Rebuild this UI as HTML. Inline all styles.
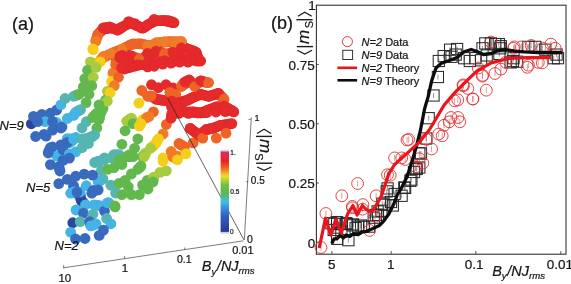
<!DOCTYPE html>
<html><head><meta charset="utf-8"><style>
html,body{margin:0;padding:0;background:#fff;width:571px;height:284px;overflow:hidden}
svg{position:absolute;left:0;top:0}
text{font-family:"Liberation Sans",sans-serif;fill:#151515;stroke:#151515;stroke-width:0.22px}
</style></head><body>
<svg width="571" height="284" viewBox="0 0 571 284">
<defs>
<filter id="bl" x="-5%" y="-5%" width="110%" height="110%"><feGaussianBlur stdDeviation="0.35"/></filter><filter id="bl2" x="0" y="0" width="571" height="284" filterUnits="userSpaceOnUse"><feGaussianBlur stdDeviation="0.3"/></filter>
<linearGradient id="cb" x1="0" y1="0" x2="0" y2="1">
<stop offset="0" stop-color="#d42a8a"/><stop offset="0.05" stop-color="#e02a40"/><stop offset="0.12" stop-color="#e52525"/>
<stop offset="0.18" stop-color="#f05020"/><stop offset="0.23" stop-color="#f08020"/><stop offset="0.28" stop-color="#f2c020"/>
<stop offset="0.31" stop-color="#e8e020"/><stop offset="0.36" stop-color="#b0d030"/><stop offset="0.42" stop-color="#70c040"/>
<stop offset="0.52" stop-color="#5cb850"/><stop offset="0.57" stop-color="#50b8a0"/><stop offset="0.63" stop-color="#40c0e8"/>
<stop offset="0.70" stop-color="#3890d8"/><stop offset="0.80" stop-color="#3060c0"/><stop offset="0.92" stop-color="#2c48a8"/><stop offset="1" stop-color="#283890"/>
</linearGradient>
</defs>
<g filter="url(#bl2)">
<text x="12" y="29.8" font-size="18">(a)</text>
<g filter="url(#bl)"><circle cx="105.3" cy="27.6" r="5.4" fill="#e4292a"/><circle cx="107.5" cy="27.3" r="5.4" fill="#e4292a"/><circle cx="118.8" cy="29.0" r="5.4" fill="#e4292a"/><circle cx="120.5" cy="27.9" r="5.4" fill="#e4292a"/><circle cx="164.5" cy="20.6" r="5.4" fill="#e4292a"/><circle cx="166.6" cy="20.6" r="5.4" fill="#e4292a"/><circle cx="170.5" cy="21.3" r="5.4" fill="#e4292a"/><circle cx="172.2" cy="22.0" r="5.4" fill="#e4292a"/><circle cx="102.2" cy="58.3" r="5.4" fill="#f19825"/><circle cx="101.2" cy="60.0" r="5.4" fill="#f2b321"/><circle cx="122.3" cy="51.1" r="5.4" fill="#ec6029"/><circle cx="122.3" cy="53.3" r="5.4" fill="#e84529"/><circle cx="177.1" cy="42.4" r="5.4" fill="#f07c28"/><circle cx="179.3" cy="42.0" r="5.4" fill="#f07c28"/><circle cx="181.4" cy="43.8" r="5.4" fill="#ec6029"/><circle cx="181.4" cy="45.9" r="5.4" fill="#e84529"/><circle cx="129.6" cy="58.5" r="5.4" fill="#e4292a"/><circle cx="138.5" cy="61.4" r="5.4" fill="#eb5027"/><circle cx="137.7" cy="63.2" r="5.4" fill="#e73d29"/><circle cx="139.2" cy="61.3" r="5.4" fill="#eb5027"/><circle cx="139.2" cy="63.1" r="5.4" fill="#e73d29"/><circle cx="164.5" cy="56.5" r="5.4" fill="#eb5027"/><circle cx="164.5" cy="58.5" r="5.4" fill="#e73d29"/><circle cx="196.2" cy="55.1" r="5.4" fill="#e4292a"/><circle cx="196.2" cy="56.8" r="5.4" fill="#e4292a"/><circle cx="196.9" cy="55.0" r="5.4" fill="#e4292a"/><circle cx="197.6" cy="56.8" r="5.4" fill="#e4292a"/><circle cx="128.6" cy="67.0" r="5.4" fill="#e4292a"/><circle cx="124.8" cy="67.3" r="5.4" fill="#e4292a"/><circle cx="123.2" cy="67.7" r="5.4" fill="#e4292a"/><circle cx="147.6" cy="64.8" r="5.4" fill="#e4292a"/><circle cx="158.2" cy="62.8" r="5.4" fill="#e4292a"/><circle cx="162.4" cy="61.2" r="5.4" fill="#e4292a"/><circle cx="183.5" cy="59.0" r="5.4" fill="#e4292a"/><circle cx="187.7" cy="59.6" r="5.4" fill="#e4292a"/><circle cx="189.9" cy="59.5" r="5.4" fill="#e4292a"/><circle cx="194.1" cy="59.0" r="5.4" fill="#e4292a"/><circle cx="197.7" cy="59.4" r="5.4" fill="#e4292a"/><circle cx="199.2" cy="60.2" r="5.4" fill="#e4292a"/><circle cx="163.6" cy="62.4" r="5.4" fill="#e4292a"/><circle cx="180.5" cy="60.3" r="5.4" fill="#e4292a"/><circle cx="194.1" cy="59.2" r="5.4" fill="#e4292a"/><circle cx="196.2" cy="58.8" r="5.4" fill="#e4292a"/><circle cx="190.0" cy="60.8" r="5.4" fill="#e4292a"/><circle cx="194.2" cy="60.2" r="5.4" fill="#e4292a"/><circle cx="198.6" cy="61.0" r="5.4" fill="#e4292a"/><circle cx="80.8" cy="198.8" r="5.4" fill="#3158af"/><circle cx="80.2" cy="195.3" r="5.4" fill="#3c83ca"/><circle cx="80.1" cy="193.7" r="5.4" fill="#409bd7"/><circle cx="79.2" cy="195.4" r="5.4" fill="#386bbe"/><circle cx="78.1" cy="193.7" r="5.4" fill="#386bbe"/><circle cx="82.7" cy="202.0" r="5.4" fill="#336ab6"/><circle cx="84.1" cy="203.4" r="5.4" fill="#3b8fcd"/><circle cx="96.1" cy="205.1" r="5.4" fill="#44b3e3"/><circle cx="98.2" cy="205.5" r="5.4" fill="#44b3e3"/><circle cx="90.2" cy="223.8" r="5.4" fill="#3e8fd0"/><circle cx="94.3" cy="224.5" r="5.4" fill="#44b3e3"/><circle cx="92.6" cy="225.2" r="5.4" fill="#44b3e3"/><circle cx="149.3" cy="96.2" r="5.4" fill="#ee6426"/><circle cx="172.0" cy="89.5" r="5.4" fill="#e73d29"/><circle cx="170.9" cy="90.9" r="5.4" fill="#eb5027"/><circle cx="171.8" cy="93.1" r="5.4" fill="#ee6426"/><circle cx="173.8" cy="93.7" r="5.4" fill="#ee6426"/><circle cx="182.7" cy="84.5" r="5.4" fill="#eb5027"/><circle cx="183.8" cy="83.2" r="5.4" fill="#e73d29"/><circle cx="187.1" cy="80.9" r="5.4" fill="#e4292a"/><circle cx="158.2" cy="99.5" r="5.4" fill="#e4292a"/><circle cx="160.2" cy="99.9" r="5.4" fill="#e4292a"/><circle cx="154.6" cy="98.1" r="5.4" fill="#e73d29"/><circle cx="152.8" cy="97.1" r="5.4" fill="#eb5027"/><circle cx="171.8" cy="103.1" r="5.4" fill="#e4292a"/><circle cx="171.8" cy="105.0" r="5.4" fill="#e4292a"/><circle cx="178.9" cy="104.0" r="5.4" fill="#e4292a"/><circle cx="178.2" cy="106.0" r="5.4" fill="#e4292a"/><circle cx="189.2" cy="99.2" r="5.4" fill="#e4292a"/><circle cx="191.2" cy="98.3" r="5.4" fill="#e4292a"/><circle cx="173.7" cy="107.3" r="5.4" fill="#e4292a"/><circle cx="175.7" cy="107.6" r="5.4" fill="#e4292a"/><circle cx="178.0" cy="109.7" r="5.4" fill="#e4292a"/><circle cx="178.3" cy="111.6" r="5.4" fill="#e4292a"/><circle cx="190.8" cy="112.6" r="5.4" fill="#e4292a"/><circle cx="194.7" cy="112.2" r="5.4" fill="#e4292a"/><circle cx="196.4" cy="112.6" r="5.4" fill="#e4292a"/><circle cx="202.9" cy="112.7" r="5.4" fill="#e4292a"/><circle cx="204.9" cy="112.6" r="5.4" fill="#e4292a"/><circle cx="216.2" cy="108.7" r="5.4" fill="#e4292a"/><circle cx="216.1" cy="110.3" r="5.4" fill="#e4292a"/><circle cx="224.4" cy="107.8" r="5.4" fill="#e4292a"/><circle cx="224.7" cy="109.7" r="5.4" fill="#e4292a"/><circle cx="228.9" cy="110.4" r="5.4" fill="#e4292a"/><circle cx="227.0" cy="111.0" r="5.4" fill="#e4292a"/><circle cx="232.4" cy="110.9" r="5.4" fill="#e4292a"/><circle cx="171.4" cy="116.0" r="5.4" fill="#e4292a"/><circle cx="200.9" cy="136.6" r="5.4" fill="#e94628"/><circle cx="208.6" cy="129.1" r="5.4" fill="#e4292a"/><circle cx="210.5" cy="128.7" r="5.4" fill="#e4292a"/><circle cx="129.8" cy="119.2" r="5.4" fill="#a8cc3c"/><circle cx="128.3" cy="120.3" r="5.4" fill="#a8cc3c"/><circle cx="131.9" cy="120.0" r="5.4" fill="#91c542"/><circle cx="132.5" cy="121.9" r="5.4" fill="#79bf48"/><circle cx="128.3" cy="155.6" r="5.4" fill="#62b84e"/><circle cx="131.4" cy="155.6" r="5.4" fill="#62b84e"/><circle cx="116.4" cy="154.6" r="5.4" fill="#55b5b0"/><circle cx="118.8" cy="156.3" r="5.4" fill="#59b68f"/><circle cx="118.8" cy="158.1" r="5.4" fill="#5eb76f"/><circle cx="113.2" cy="156.4" r="5.4" fill="#55b5b0"/><circle cx="144.6" cy="118.8" r="5.4" fill="#f2a623"/><circle cx="141.7" cy="121.7" r="5.4" fill="#f3cf1e"/><circle cx="157.3" cy="140.6" r="5.4" fill="#f3cf1e"/><circle cx="156.3" cy="142.5" r="5.4" fill="#f3cf1e"/><circle cx="153.6" cy="145.6" r="5.4" fill="#dace28"/><circle cx="152.1" cy="147.0" r="5.4" fill="#c1cd32"/><circle cx="144.6" cy="154.3" r="5.4" fill="#91c542"/><circle cx="143.6" cy="155.7" r="5.4" fill="#79bf48"/><circle cx="144.9" cy="154.8" r="5.4" fill="#a8cc3c"/><circle cx="180.8" cy="144.6" r="5.4" fill="#ee6426"/><circle cx="182.6" cy="145.7" r="5.4" fill="#ee6426"/><circle cx="171.6" cy="153.2" r="5.4" fill="#f07c28"/><circle cx="172.2" cy="154.9" r="5.4" fill="#f07c28"/><circle cx="175.1" cy="156.4" r="5.4" fill="#f07c28"/><circle cx="177.4" cy="158.0" r="5.4" fill="#f2a623"/><circle cx="100.3" cy="160.8" r="5.4" fill="#4ab4d2"/><circle cx="102.4" cy="160.3" r="5.4" fill="#4fb4c1"/><circle cx="96.5" cy="161.9" r="5.4" fill="#4cb4ca"/><circle cx="119.8" cy="161.4" r="5.4" fill="#62b84e"/><circle cx="120.9" cy="162.9" r="5.4" fill="#62b84e"/><circle cx="128.8" cy="156.6" r="5.4" fill="#62b84e"/><circle cx="130.9" cy="156.6" r="5.4" fill="#62b84e"/><circle cx="101.3" cy="179.9" r="5.4" fill="#4fb4c1"/><circle cx="99.8" cy="180.9" r="5.4" fill="#4ab4d2"/><circle cx="139.4" cy="167.7" r="5.4" fill="#62b84e"/><circle cx="149.2" cy="180.9" r="5.4" fill="#62b84e"/><circle cx="151.1" cy="181.5" r="5.4" fill="#62b84e"/><circle cx="153.3" cy="179.6" r="5.4" fill="#85c245"/><circle cx="174.3" cy="157.7" r="5.4" fill="#f19825"/><circle cx="175.8" cy="158.7" r="5.4" fill="#f2b321"/><circle cx="96.5" cy="190.2" r="5.4" fill="#386bbe"/><circle cx="94.7" cy="190.4" r="5.4" fill="#386bbe"/><circle cx="75.4" cy="95.6" r="5.4" fill="#59b68f"/><circle cx="77.3" cy="94.9" r="5.4" fill="#5eb76f"/><circle cx="54.6" cy="122.2" r="5.4" fill="#3e8fd0"/><circle cx="68.3" cy="140.7" r="5.4" fill="#44b3e3"/><circle cx="67.3" cy="140.5" r="5.4" fill="#3e8fd0"/><circle cx="69.4" cy="138.8" r="5.4" fill="#44b3e3"/><circle cx="71.5" cy="139.0" r="5.4" fill="#44b3e3"/><circle cx="94.0" cy="116.1" r="5.4" fill="#62b84e"/><circle cx="95.4" cy="114.6" r="5.4" fill="#62b84e"/><circle cx="61.6" cy="146.5" r="5.4" fill="#386bbe"/><circle cx="62.3" cy="148.2" r="5.4" fill="#386bbe"/><circle cx="70.8" cy="141.6" r="5.4" fill="#44b3e3"/><circle cx="72.2" cy="140.4" r="5.4" fill="#44b3e3"/><circle cx="84.2" cy="138.9" r="5.4" fill="#55b5b0"/><circle cx="88.4" cy="137.8" r="5.4" fill="#55b5b0"/><circle cx="87.0" cy="140.2" r="5.4" fill="#55b5b0"/><circle cx="87.7" cy="141.9" r="5.4" fill="#55b5b0"/><circle cx="99.4" cy="117.7" r="5.4" fill="#62b84e"/><circle cx="99.8" cy="115.8" r="5.4" fill="#62b84e"/><circle cx="49.7" cy="149.5" r="5.4" fill="#386bbe"/><circle cx="48.9" cy="151.2" r="5.4" fill="#386bbe"/><circle cx="92.6" cy="136.1" r="5.4" fill="#55b5b0"/><circle cx="69.4" cy="156.1" r="5.4" fill="#3e8fd0"/><circle cx="59.4" cy="168.8" r="5.4" fill="#386bbe"/><circle cx="73.7" cy="187.7" r="5.4" fill="#3c83ca"/><circle cx="73.9" cy="189.8" r="5.4" fill="#409bd7"/><circle cx="78.0" cy="191.9" r="5.4" fill="#44b3e3"/><circle cx="76.0" cy="191.9" r="5.4" fill="#44b3e3"/><circle cx="72.3" cy="192.5" r="5.4" fill="#44b3e3"/><circle cx="72.8" cy="192.8" r="5.4" fill="#409bd7"/><circle cx="74.9" cy="192.5" r="5.4" fill="#3c83ca"/><circle cx="78.8" cy="110.6" r="5.4" fill="#4fb4c1"/><circle cx="77.2" cy="111.5" r="5.4" fill="#4ab4d2"/><circle cx="112.4" cy="82.9" r="5.4" fill="#f2b321"/><circle cx="113.4" cy="84.3" r="5.4" fill="#f19825"/><circle cx="102.1" cy="110.1" r="5.4" fill="#62b84e"/><circle cx="101.1" cy="112.0" r="5.4" fill="#62b84e"/><circle cx="101.7" cy="107.1" r="5.4" fill="#62b84e"/><circle cx="100.3" cy="105.9" r="5.4" fill="#62b84e"/><circle cx="95.8" cy="40.6" r="5.4" fill="#f07c28"/><circle cx="96.5" cy="38.5" r="5.4" fill="#ef7427"/><circle cx="97.3" cy="36.4" r="5.4" fill="#ef6c27"/><circle cx="98.0" cy="34.3" r="5.4" fill="#ee6426"/><circle cx="99.7" cy="32.5" r="5.4" fill="#eb5027"/><circle cx="101.5" cy="30.8" r="5.4" fill="#e73d29"/><circle cx="103.2" cy="29.0" r="5.4" fill="#e4292a"/><circle cx="105.3" cy="28.8" r="5.4" fill="#e4292a"/><circle cx="107.5" cy="28.5" r="5.4" fill="#e4292a"/><circle cx="109.6" cy="28.2" r="5.4" fill="#e4292a"/><circle cx="111.7" cy="28.0" r="5.4" fill="#e4292a"/><circle cx="113.8" cy="28.7" r="5.4" fill="#e4292a"/><circle cx="115.9" cy="29.3" r="5.4" fill="#e4292a"/><circle cx="118.0" cy="30.0" r="5.4" fill="#e4292a"/><circle cx="120.1" cy="28.6" r="5.4" fill="#e4292a"/><circle cx="122.3" cy="27.2" r="5.4" fill="#e4292a"/><circle cx="124.4" cy="25.8" r="5.4" fill="#e4292a"/><circle cx="126.5" cy="24.8" r="5.4" fill="#e4292a"/><circle cx="128.6" cy="23.7" r="5.4" fill="#e4292a"/><circle cx="130.7" cy="22.7" r="5.4" fill="#e4292a"/><circle cx="132.8" cy="23.7" r="5.4" fill="#e4292a"/><circle cx="134.9" cy="24.8" r="5.4" fill="#e4292a"/><circle cx="137.0" cy="25.8" r="5.4" fill="#e4292a"/><circle cx="139.1" cy="26.5" r="5.4" fill="#e4292a"/><circle cx="141.3" cy="27.3" r="5.4" fill="#e4292a"/><circle cx="143.4" cy="28.0" r="5.4" fill="#e4292a"/><circle cx="145.5" cy="26.6" r="5.4" fill="#e4292a"/><circle cx="147.6" cy="25.1" r="5.4" fill="#e4292a"/><circle cx="149.7" cy="23.7" r="5.4" fill="#e4292a"/><circle cx="151.8" cy="22.7" r="5.4" fill="#e4292a"/><circle cx="153.9" cy="21.6" r="5.4" fill="#e4292a"/><circle cx="156.0" cy="20.6" r="5.4" fill="#e4292a"/><circle cx="158.1" cy="20.6" r="5.4" fill="#e4292a"/><circle cx="160.2" cy="20.6" r="5.4" fill="#e4292a"/><circle cx="162.4" cy="20.6" r="5.4" fill="#e4292a"/><circle cx="164.5" cy="20.6" r="5.4" fill="#e4292a"/><circle cx="166.6" cy="21.1" r="5.4" fill="#e4292a"/><circle cx="168.8" cy="21.6" r="5.4" fill="#e4292a"/><circle cx="170.9" cy="22.2" r="5.4" fill="#e4292a"/><circle cx="173.0" cy="22.7" r="5.4" fill="#e4292a"/><circle cx="96.9" cy="63.9" r="5.4" fill="#f3cf1e"/><circle cx="98.5" cy="62.3" r="5.4" fill="#f2ba20"/><circle cx="100.1" cy="60.7" r="5.4" fill="#f2a623"/><circle cx="101.6" cy="59.1" r="5.4" fill="#f19126"/><circle cx="103.2" cy="57.5" r="5.4" fill="#f07c28"/><circle cx="105.3" cy="56.5" r="5.4" fill="#f07628"/><circle cx="107.5" cy="55.4" r="5.4" fill="#ef7027"/><circle cx="109.6" cy="54.3" r="5.4" fill="#ee6a26"/><circle cx="111.7" cy="53.3" r="5.4" fill="#ee6426"/><circle cx="113.8" cy="52.5" r="5.4" fill="#ee6426"/><circle cx="115.9" cy="51.6" r="5.4" fill="#ee6426"/><circle cx="118.1" cy="50.8" r="5.4" fill="#ee6426"/><circle cx="120.2" cy="49.9" r="5.4" fill="#ee6426"/><circle cx="122.3" cy="49.1" r="5.4" fill="#ee6426"/><circle cx="124.4" cy="48.0" r="5.4" fill="#ee6426"/><circle cx="126.5" cy="47.0" r="5.4" fill="#ee6426"/><circle cx="128.6" cy="45.9" r="5.4" fill="#ee6426"/><circle cx="130.7" cy="44.9" r="5.4" fill="#ee6426"/><circle cx="132.8" cy="43.8" r="5.4" fill="#ee6426"/><circle cx="134.9" cy="43.8" r="5.4" fill="#ee6426"/><circle cx="137.1" cy="43.8" r="5.4" fill="#ee6426"/><circle cx="139.2" cy="43.8" r="5.4" fill="#ee6426"/><circle cx="141.3" cy="43.8" r="5.4" fill="#ee6426"/><circle cx="143.4" cy="44.3" r="5.4" fill="#ee6426"/><circle cx="145.5" cy="44.8" r="5.4" fill="#ee6426"/><circle cx="147.6" cy="45.4" r="5.4" fill="#ee6426"/><circle cx="149.7" cy="45.9" r="5.4" fill="#ee6426"/><circle cx="151.8" cy="45.1" r="5.4" fill="#ee6a26"/><circle cx="153.9" cy="44.3" r="5.4" fill="#ef7027"/><circle cx="156.1" cy="43.5" r="5.4" fill="#f07628"/><circle cx="158.2" cy="42.7" r="5.4" fill="#f07c28"/><circle cx="160.3" cy="42.5" r="5.4" fill="#f07728"/><circle cx="162.4" cy="42.3" r="5.4" fill="#ef7227"/><circle cx="164.5" cy="42.1" r="5.4" fill="#ef6e27"/><circle cx="166.6" cy="41.9" r="5.4" fill="#ee6926"/><circle cx="168.7" cy="41.7" r="5.4" fill="#ee6426"/><circle cx="170.8" cy="41.7" r="5.4" fill="#ee6926"/><circle cx="172.9" cy="41.7" r="5.4" fill="#ef6e27"/><circle cx="175.1" cy="41.7" r="5.4" fill="#ef7227"/><circle cx="177.2" cy="41.7" r="5.4" fill="#f07728"/><circle cx="179.3" cy="41.7" r="5.4" fill="#f07c28"/><circle cx="181.4" cy="41.7" r="5.4" fill="#ef7027"/><circle cx="116.0" cy="60.7" r="5.4" fill="#ee6426"/><circle cx="117.7" cy="59.4" r="5.4" fill="#ec5827"/><circle cx="119.4" cy="58.2" r="5.4" fill="#ea4c28"/><circle cx="121.0" cy="56.9" r="5.4" fill="#e84128"/><circle cx="122.7" cy="55.7" r="5.4" fill="#e63529"/><circle cx="124.4" cy="54.4" r="5.4" fill="#e4292a"/><circle cx="126.5" cy="54.9" r="5.4" fill="#e4292a"/><circle cx="128.6" cy="55.5" r="5.4" fill="#e4292a"/><circle cx="130.7" cy="56.0" r="5.4" fill="#e4292a"/><circle cx="132.8" cy="56.5" r="5.4" fill="#e4292a"/><circle cx="134.9" cy="57.3" r="5.4" fill="#e63829"/><circle cx="137.1" cy="58.1" r="5.4" fill="#e94628"/><circle cx="139.2" cy="58.9" r="5.4" fill="#ec5527"/><circle cx="141.3" cy="59.7" r="5.4" fill="#ee6426"/><circle cx="143.0" cy="58.4" r="5.4" fill="#ec5827"/><circle cx="144.7" cy="57.1" r="5.4" fill="#ea4c28"/><circle cx="146.3" cy="55.9" r="5.4" fill="#e84128"/><circle cx="148.0" cy="54.6" r="5.4" fill="#e63529"/><circle cx="149.7" cy="53.3" r="5.4" fill="#e4292a"/><circle cx="151.8" cy="52.8" r="5.4" fill="#e4292a"/><circle cx="153.9" cy="52.2" r="5.4" fill="#e4292a"/><circle cx="156.1" cy="51.7" r="5.4" fill="#e4292a"/><circle cx="158.2" cy="51.2" r="5.4" fill="#e4292a"/><circle cx="160.3" cy="52.0" r="5.4" fill="#e63829"/><circle cx="162.4" cy="52.8" r="5.4" fill="#e94628"/><circle cx="164.5" cy="53.6" r="5.4" fill="#ec5527"/><circle cx="166.6" cy="54.4" r="5.4" fill="#ee6426"/><circle cx="168.7" cy="53.5" r="5.4" fill="#ec5827"/><circle cx="170.8" cy="52.7" r="5.4" fill="#ea4c28"/><circle cx="173.0" cy="51.8" r="5.4" fill="#e84128"/><circle cx="175.1" cy="51.0" r="5.4" fill="#e63529"/><circle cx="177.2" cy="50.1" r="5.4" fill="#e4292a"/><circle cx="179.3" cy="49.6" r="5.4" fill="#e4292a"/><circle cx="181.4" cy="49.0" r="5.4" fill="#e4292a"/><circle cx="183.5" cy="48.5" r="5.4" fill="#e4292a"/><circle cx="185.6" cy="48.0" r="5.4" fill="#e4292a"/><circle cx="187.7" cy="48.8" r="5.4" fill="#e4292a"/><circle cx="189.8" cy="49.6" r="5.4" fill="#e4292a"/><circle cx="192.0" cy="50.4" r="5.4" fill="#e4292a"/><circle cx="194.1" cy="51.2" r="5.4" fill="#e4292a"/><circle cx="196.2" cy="52.2" r="5.4" fill="#e4292a"/><circle cx="126.5" cy="68.1" r="5.4" fill="#e4292a"/><circle cx="128.6" cy="67.6" r="5.4" fill="#e4292a"/><circle cx="130.7" cy="67.0" r="5.4" fill="#e4292a"/><circle cx="132.8" cy="66.5" r="5.4" fill="#e4292a"/><circle cx="135.0" cy="66.0" r="5.4" fill="#e4292a"/><circle cx="137.1" cy="65.4" r="5.4" fill="#e4292a"/><circle cx="139.2" cy="64.9" r="5.4" fill="#e4292a"/><circle cx="141.3" cy="64.6" r="5.4" fill="#e4292a"/><circle cx="143.4" cy="64.2" r="5.4" fill="#e4292a"/><circle cx="145.5" cy="63.9" r="5.4" fill="#e4292a"/><circle cx="147.6" cy="63.5" r="5.4" fill="#e4292a"/><circle cx="149.7" cy="63.1" r="5.4" fill="#e4292a"/><circle cx="151.8" cy="62.8" r="5.4" fill="#e4292a"/><circle cx="153.9" cy="62.6" r="5.4" fill="#e4292a"/><circle cx="156.0" cy="62.5" r="5.4" fill="#e4292a"/><circle cx="158.2" cy="62.3" r="5.4" fill="#e4292a"/><circle cx="160.3" cy="62.1" r="5.4" fill="#e4292a"/><circle cx="162.4" cy="62.0" r="5.4" fill="#e4292a"/><circle cx="164.5" cy="61.8" r="5.4" fill="#e4292a"/><circle cx="166.6" cy="61.6" r="5.4" fill="#e4292a"/><circle cx="168.7" cy="61.4" r="5.4" fill="#e4292a"/><circle cx="170.8" cy="61.2" r="5.4" fill="#e4292a"/><circle cx="173.0" cy="61.1" r="5.4" fill="#e4292a"/><circle cx="175.1" cy="60.9" r="5.4" fill="#e4292a"/><circle cx="177.2" cy="60.7" r="5.4" fill="#e4292a"/><circle cx="179.3" cy="60.5" r="5.4" fill="#e4292a"/><circle cx="181.4" cy="60.4" r="5.4" fill="#e4292a"/><circle cx="183.6" cy="60.2" r="5.4" fill="#e4292a"/><circle cx="185.7" cy="60.0" r="5.4" fill="#e4292a"/><circle cx="187.8" cy="59.9" r="5.4" fill="#e4292a"/><circle cx="189.9" cy="59.7" r="5.4" fill="#e4292a"/><circle cx="191.9" cy="59.5" r="5.4" fill="#e4292a"/><circle cx="193.9" cy="59.3" r="5.4" fill="#e4292a"/><circle cx="196.0" cy="59.0" r="5.4" fill="#e4292a"/><circle cx="198.0" cy="58.8" r="5.4" fill="#e4292a"/><circle cx="181.5" cy="86.5" r="5.4" fill="#ee6426"/><circle cx="183.4" cy="85.0" r="5.4" fill="#ec5527"/><circle cx="185.3" cy="83.5" r="5.4" fill="#e94628"/><circle cx="187.3" cy="82.0" r="5.4" fill="#e63829"/><circle cx="189.2" cy="80.5" r="5.4" fill="#e4292a"/><circle cx="191.1" cy="82.2" r="5.4" fill="#e73d29"/><circle cx="193.1" cy="83.8" r="5.4" fill="#eb5027"/><circle cx="195.0" cy="85.5" r="5.4" fill="#ee6426"/><circle cx="196.9" cy="84.0" r="5.4" fill="#eb5027"/><circle cx="198.9" cy="82.5" r="5.4" fill="#e73d29"/><circle cx="200.8" cy="81.0" r="5.4" fill="#e4292a"/><circle cx="202.8" cy="81.5" r="5.4" fill="#e63829"/><circle cx="204.7" cy="82.0" r="5.4" fill="#e94628"/><circle cx="206.7" cy="82.5" r="5.4" fill="#ec5527"/><circle cx="156.3" cy="99.2" r="5.4" fill="#e4292a"/><circle cx="159.2" cy="99.7" r="5.4" fill="#e4292a"/><circle cx="162.1" cy="100.2" r="5.4" fill="#e4292a"/><circle cx="164.5" cy="100.4" r="5.4" fill="#e4292a"/><circle cx="166.9" cy="100.7" r="5.4" fill="#e4292a"/><circle cx="169.4" cy="100.9" r="5.4" fill="#e4292a"/><circle cx="171.8" cy="101.1" r="5.4" fill="#e4292a"/><circle cx="174.4" cy="101.4" r="5.4" fill="#e4292a"/><circle cx="176.9" cy="101.8" r="5.4" fill="#e4292a"/><circle cx="179.5" cy="102.1" r="5.4" fill="#e4292a"/><circle cx="181.4" cy="101.6" r="5.4" fill="#e4292a"/><circle cx="183.4" cy="101.2" r="5.4" fill="#e4292a"/><circle cx="185.4" cy="100.7" r="5.4" fill="#e4292a"/><circle cx="187.3" cy="100.2" r="5.4" fill="#e4292a"/><circle cx="189.2" cy="99.2" r="5.4" fill="#e4292a"/><circle cx="191.2" cy="98.3" r="5.4" fill="#e4292a"/><circle cx="193.1" cy="97.3" r="5.4" fill="#e4292a"/><circle cx="195.0" cy="96.6" r="5.4" fill="#e4292a"/><circle cx="196.9" cy="95.8" r="5.4" fill="#e4292a"/><circle cx="198.9" cy="95.1" r="5.4" fill="#e4292a"/><circle cx="200.8" cy="94.4" r="5.4" fill="#e4292a"/><circle cx="202.8" cy="94.9" r="5.4" fill="#e4292a"/><circle cx="204.7" cy="95.3" r="5.4" fill="#e4292a"/><circle cx="206.7" cy="95.8" r="5.4" fill="#e4292a"/><circle cx="208.6" cy="96.3" r="5.4" fill="#e4292a"/><circle cx="210.5" cy="95.7" r="5.4" fill="#e4292a"/><circle cx="212.5" cy="95.1" r="5.4" fill="#e4292a"/><circle cx="214.4" cy="94.6" r="5.4" fill="#e4292a"/><circle cx="216.4" cy="94.0" r="5.4" fill="#e4292a"/><circle cx="218.3" cy="93.4" r="5.4" fill="#e4292a"/><circle cx="219.8" cy="94.9" r="5.4" fill="#e63829"/><circle cx="221.2" cy="96.3" r="5.4" fill="#e94628"/><circle cx="222.7" cy="97.8" r="5.4" fill="#ec5527"/><circle cx="171.8" cy="107.0" r="5.4" fill="#e4292a"/><circle cx="174.7" cy="107.5" r="5.4" fill="#e4292a"/><circle cx="177.6" cy="107.9" r="5.4" fill="#e4292a"/><circle cx="179.5" cy="108.9" r="5.4" fill="#e4292a"/><circle cx="181.4" cy="109.8" r="5.4" fill="#e4292a"/><circle cx="183.4" cy="110.8" r="5.4" fill="#e4292a"/><circle cx="185.3" cy="111.8" r="5.4" fill="#e4292a"/><circle cx="187.9" cy="111.8" r="5.4" fill="#e4292a"/><circle cx="190.5" cy="111.8" r="5.4" fill="#e4292a"/><circle cx="193.1" cy="111.8" r="5.4" fill="#e4292a"/><circle cx="195.7" cy="112.1" r="5.4" fill="#e4292a"/><circle cx="198.2" cy="112.5" r="5.4" fill="#e4292a"/><circle cx="200.8" cy="112.8" r="5.4" fill="#e4292a"/><circle cx="202.8" cy="112.1" r="5.4" fill="#e4292a"/><circle cx="204.7" cy="111.3" r="5.4" fill="#e4292a"/><circle cx="206.7" cy="110.6" r="5.4" fill="#e4292a"/><circle cx="208.6" cy="109.9" r="5.4" fill="#e4292a"/><circle cx="210.5" cy="109.2" r="5.4" fill="#e4292a"/><circle cx="212.4" cy="108.5" r="5.4" fill="#e4292a"/><circle cx="214.4" cy="107.7" r="5.4" fill="#e4292a"/><circle cx="216.3" cy="107.0" r="5.4" fill="#e4292a"/><circle cx="218.9" cy="106.7" r="5.4" fill="#e4292a"/><circle cx="221.5" cy="106.3" r="5.4" fill="#e4292a"/><circle cx="224.1" cy="106.0" r="5.4" fill="#e4292a"/><circle cx="226.4" cy="107.3" r="5.4" fill="#e4292a"/><circle cx="228.6" cy="108.6" r="5.4" fill="#e4292a"/><circle cx="190.2" cy="128.4" r="5.4" fill="#e4292a"/><circle cx="191.9" cy="129.8" r="5.4" fill="#e4292a"/><circle cx="193.7" cy="131.1" r="5.4" fill="#e4292a"/><circle cx="195.4" cy="132.5" r="5.4" fill="#e4292a"/><circle cx="197.2" cy="133.8" r="5.4" fill="#e4292a"/><circle cx="198.9" cy="135.2" r="5.4" fill="#e4292a"/><circle cx="200.8" cy="133.8" r="5.4" fill="#e4292a"/><circle cx="202.8" cy="132.3" r="5.4" fill="#e4292a"/><circle cx="204.7" cy="130.8" r="5.4" fill="#e4292a"/><circle cx="206.6" cy="129.4" r="5.4" fill="#e4292a"/><circle cx="209.6" cy="128.9" r="5.4" fill="#e4292a"/><circle cx="212.5" cy="128.4" r="5.4" fill="#e4292a"/><circle cx="214.4" cy="127.7" r="5.4" fill="#e4292a"/><circle cx="216.3" cy="127.0" r="5.4" fill="#e4292a"/><circle cx="218.3" cy="126.2" r="5.4" fill="#e4292a"/><circle cx="220.2" cy="125.5" r="5.4" fill="#e4292a"/><circle cx="222.5" cy="125.1" r="5.4" fill="#e4292a"/><circle cx="224.8" cy="124.7" r="5.4" fill="#e4292a"/><circle cx="227.2" cy="124.4" r="5.4" fill="#e4292a"/><circle cx="229.5" cy="124.0" r="5.4" fill="#e4292a"/><circle cx="98.0" cy="34.3" r="5.4" fill="#ee6426"/><circle cx="103.2" cy="28.0" r="5.4" fill="#e4292a"/><circle cx="109.6" cy="26.9" r="5.4" fill="#e4292a"/><circle cx="117.0" cy="30.0" r="5.4" fill="#e4292a"/><circle cx="122.3" cy="26.9" r="5.4" fill="#e4292a"/><circle cx="128.6" cy="21.6" r="5.4" fill="#e4292a"/><circle cx="135.0" cy="23.7" r="5.4" fill="#e4292a"/><circle cx="141.3" cy="28.0" r="5.4" fill="#e4292a"/><circle cx="147.6" cy="24.8" r="5.4" fill="#e4292a"/><circle cx="154.0" cy="19.5" r="5.4" fill="#e4292a"/><circle cx="162.4" cy="20.6" r="5.4" fill="#e4292a"/><circle cx="168.7" cy="20.6" r="5.4" fill="#e4292a"/><circle cx="174.0" cy="22.7" r="5.4" fill="#e4292a"/><circle cx="95.8" cy="41.3" r="5.4" fill="#f07c28"/><circle cx="92.7" cy="49.0" r="5.4" fill="#f3cf1e"/><circle cx="103.2" cy="56.5" r="5.4" fill="#f07c28"/><circle cx="111.7" cy="53.3" r="5.4" fill="#f07c28"/><circle cx="122.3" cy="49.0" r="5.4" fill="#f07c28"/><circle cx="130.7" cy="44.9" r="5.4" fill="#ee6426"/><circle cx="139.2" cy="43.8" r="5.4" fill="#ee6426"/><circle cx="147.6" cy="45.9" r="5.4" fill="#f07c28"/><circle cx="156.0" cy="42.7" r="5.4" fill="#f07c28"/><circle cx="164.5" cy="41.7" r="5.4" fill="#f07c28"/><circle cx="175.0" cy="42.7" r="5.4" fill="#f07c28"/><circle cx="181.4" cy="41.7" r="5.4" fill="#f07c28"/><circle cx="122.3" cy="55.4" r="5.4" fill="#e4292a"/><circle cx="130.7" cy="56.5" r="5.4" fill="#e4292a"/><circle cx="139.2" cy="59.6" r="5.4" fill="#ee6426"/><circle cx="147.6" cy="53.3" r="5.4" fill="#e4292a"/><circle cx="156.0" cy="51.2" r="5.4" fill="#e4292a"/><circle cx="164.5" cy="54.4" r="5.4" fill="#ee6426"/><circle cx="173.0" cy="52.3" r="5.4" fill="#e4292a"/><circle cx="181.4" cy="48.0" r="5.4" fill="#e4292a"/><circle cx="189.9" cy="50.1" r="5.4" fill="#e4292a"/><circle cx="196.2" cy="53.3" r="5.4" fill="#e4292a"/><circle cx="126.5" cy="67.0" r="5.4" fill="#e4292a"/><circle cx="137.0" cy="65.0" r="5.4" fill="#e4292a"/><circle cx="147.6" cy="62.8" r="5.4" fill="#e4292a"/><circle cx="160.3" cy="61.8" r="5.4" fill="#e4292a"/><circle cx="173.0" cy="61.8" r="5.4" fill="#e4292a"/><circle cx="185.6" cy="59.6" r="5.4" fill="#e4292a"/><circle cx="196.2" cy="58.6" r="5.4" fill="#e4292a"/><circle cx="120.1" cy="56.3" r="5.4" fill="#e4292a"/><circle cx="128.6" cy="60.6" r="5.4" fill="#e4292a"/><circle cx="124.4" cy="69.0" r="5.4" fill="#e4292a"/><circle cx="130.7" cy="66.9" r="5.4" fill="#e4292a"/><circle cx="139.2" cy="64.8" r="5.4" fill="#e4292a"/><circle cx="147.6" cy="66.9" r="5.4" fill="#e4292a"/><circle cx="156.0" cy="63.7" r="5.4" fill="#e4292a"/><circle cx="164.5" cy="60.6" r="5.4" fill="#e4292a"/><circle cx="173.0" cy="60.6" r="5.4" fill="#e4292a"/><circle cx="181.4" cy="58.5" r="5.4" fill="#e4292a"/><circle cx="192.0" cy="59.5" r="5.4" fill="#e4292a"/><circle cx="198.3" cy="58.5" r="5.4" fill="#e4292a"/><circle cx="154.2" cy="66.3" r="5.4" fill="#e4292a"/><circle cx="162.7" cy="64.2" r="5.4" fill="#e4292a"/><circle cx="171.1" cy="63.2" r="5.4" fill="#e4292a"/><circle cx="179.6" cy="62.1" r="5.4" fill="#e4292a"/><circle cx="188.0" cy="62.1" r="5.4" fill="#e4292a"/><circle cx="196.5" cy="61.0" r="5.4" fill="#e4292a"/><circle cx="200.7" cy="61.0" r="5.4" fill="#e4292a"/><circle cx="80.3" cy="197.0" r="5.4" fill="#386bbe"/><circle cx="81.3" cy="200.6" r="5.4" fill="#2a46a0"/><circle cx="85.5" cy="204.8" r="5.4" fill="#44b3e3"/><circle cx="76.0" cy="210.0" r="5.4" fill="#44b3e3"/><circle cx="83.4" cy="213.2" r="5.4" fill="#386bbe"/><circle cx="94.0" cy="204.8" r="5.4" fill="#44b3e3"/><circle cx="100.3" cy="205.8" r="5.4" fill="#44b3e3"/><circle cx="108.7" cy="202.7" r="5.4" fill="#44b3e3"/><circle cx="115.1" cy="206.9" r="5.4" fill="#62b84e"/><circle cx="104.5" cy="211.1" r="5.4" fill="#386bbe"/><circle cx="92.9" cy="214.3" r="5.4" fill="#55b5b0"/><circle cx="72.8" cy="222.7" r="5.4" fill="#2a46a0"/><circle cx="80.2" cy="221.7" r="5.4" fill="#55b5b0"/><circle cx="89.7" cy="221.7" r="5.4" fill="#386bbe"/><circle cx="96.1" cy="223.8" r="5.4" fill="#44b3e3"/><circle cx="90.8" cy="225.9" r="5.4" fill="#44b3e3"/><circle cx="106.6" cy="218.5" r="5.4" fill="#55b5b0"/><circle cx="110.9" cy="223.8" r="5.4" fill="#44b3e3"/><circle cx="103.5" cy="230.1" r="5.4" fill="#386bbe"/><circle cx="99.2" cy="235.4" r="5.4" fill="#386bbe"/><circle cx="70.7" cy="232.3" r="5.4" fill="#44b3e3"/><circle cx="75.5" cy="239.0" r="5.4" fill="#386bbe"/><circle cx="85.0" cy="238.5" r="5.4" fill="#386bbe"/><circle cx="107.4" cy="202.8" r="5.4" fill="#44b3e3"/><circle cx="114.8" cy="206.0" r="5.4" fill="#62b84e"/><circle cx="93.3" cy="49.7" r="5.4" fill="#f3cf1e"/><circle cx="141.8" cy="90.5" r="5.4" fill="#ee6426"/><circle cx="147.6" cy="96.3" r="5.4" fill="#ee6426"/><circle cx="151.5" cy="84.7" r="5.4" fill="#e4292a"/><circle cx="158.2" cy="87.6" r="5.4" fill="#e4292a"/><circle cx="166.0" cy="84.7" r="5.4" fill="#e4292a"/><circle cx="173.0" cy="88.0" r="5.4" fill="#e4292a"/><circle cx="169.9" cy="92.4" r="5.4" fill="#ee6426"/><circle cx="175.7" cy="94.4" r="5.4" fill="#ee6426"/><circle cx="181.5" cy="85.7" r="5.4" fill="#ee6426"/><circle cx="185.0" cy="82.0" r="5.4" fill="#e4292a"/><circle cx="189.2" cy="79.8" r="5.4" fill="#e4292a"/><circle cx="195.0" cy="86.6" r="5.4" fill="#ee6426"/><circle cx="200.8" cy="80.8" r="5.4" fill="#e4292a"/><circle cx="208.6" cy="82.7" r="5.4" fill="#ee6426"/><circle cx="156.3" cy="99.2" r="5.4" fill="#e4292a"/><circle cx="162.1" cy="100.2" r="5.4" fill="#e4292a"/><circle cx="171.8" cy="101.1" r="5.4" fill="#e4292a"/><circle cx="179.5" cy="102.1" r="5.4" fill="#e4292a"/><circle cx="187.3" cy="100.2" r="5.4" fill="#e4292a"/><circle cx="193.1" cy="97.3" r="5.4" fill="#e4292a"/><circle cx="200.8" cy="94.4" r="5.4" fill="#e4292a"/><circle cx="208.6" cy="96.3" r="5.4" fill="#e4292a"/><circle cx="218.3" cy="93.4" r="5.4" fill="#e4292a"/><circle cx="224.1" cy="99.2" r="5.4" fill="#ee6426"/><circle cx="171.8" cy="107.0" r="5.4" fill="#e4292a"/><circle cx="177.6" cy="107.9" r="5.4" fill="#e4292a"/><circle cx="185.3" cy="111.8" r="5.4" fill="#e4292a"/><circle cx="193.1" cy="111.8" r="5.4" fill="#e4292a"/><circle cx="200.8" cy="112.8" r="5.4" fill="#e4292a"/><circle cx="208.6" cy="109.9" r="5.4" fill="#e4292a"/><circle cx="216.3" cy="107.0" r="5.4" fill="#e4292a"/><circle cx="224.1" cy="106.0" r="5.4" fill="#e4292a"/><circle cx="230.9" cy="109.9" r="5.4" fill="#e4292a"/><circle cx="171.8" cy="113.7" r="5.4" fill="#e4292a"/><circle cx="138.9" cy="103.1" r="5.4" fill="#f3cf1e"/><circle cx="153.4" cy="111.9" r="5.4" fill="#ee6426"/><circle cx="185.3" cy="153.6" r="5.4" fill="#f3cf1e"/><circle cx="190.2" cy="128.4" r="5.4" fill="#e4292a"/><circle cx="193.1" cy="142.9" r="5.4" fill="#ee6426"/><circle cx="198.9" cy="135.2" r="5.4" fill="#e4292a"/><circle cx="202.8" cy="138.1" r="5.4" fill="#ee6426"/><circle cx="206.6" cy="129.4" r="5.4" fill="#e4292a"/><circle cx="212.5" cy="128.4" r="5.4" fill="#e4292a"/><circle cx="216.3" cy="138.1" r="5.4" fill="#ee6426"/><circle cx="220.2" cy="125.5" r="5.4" fill="#e4292a"/><circle cx="226.0" cy="133.2" r="5.4" fill="#ee6426"/><circle cx="231.8" cy="123.6" r="5.4" fill="#e4292a"/><circle cx="178.7" cy="113.4" r="5.4" fill="#e4292a"/><circle cx="188.4" cy="113.4" r="5.4" fill="#e4292a"/><circle cx="198.0" cy="113.0" r="5.4" fill="#e4292a"/><circle cx="207.0" cy="112.5" r="5.4" fill="#e4292a"/><circle cx="216.0" cy="112.0" r="5.4" fill="#e4292a"/><circle cx="225.0" cy="111.5" r="5.4" fill="#e4292a"/><circle cx="233.8" cy="111.9" r="5.4" fill="#e4292a"/><circle cx="151.1" cy="96.0" r="5.4" fill="#ee6426"/><circle cx="131.4" cy="118.2" r="5.4" fill="#a8cc3c"/><circle cx="126.7" cy="121.3" r="5.4" fill="#a8cc3c"/><circle cx="133.0" cy="123.7" r="5.4" fill="#62b84e"/><circle cx="125.1" cy="130.8" r="5.4" fill="#62b84e"/><circle cx="137.8" cy="138.8" r="5.4" fill="#62b84e"/><circle cx="121.9" cy="144.3" r="5.4" fill="#62b84e"/><circle cx="134.6" cy="148.3" r="5.4" fill="#62b84e"/><circle cx="129.9" cy="154.6" r="5.4" fill="#62b84e"/><circle cx="118.8" cy="154.6" r="5.4" fill="#55b5b0"/><circle cx="114.0" cy="154.6" r="5.4" fill="#55b5b0"/><circle cx="104.5" cy="157.8" r="5.4" fill="#55b5b0"/><circle cx="142.5" cy="119.8" r="5.4" fill="#f3cf1e"/><circle cx="139.4" cy="126.1" r="5.4" fill="#f3cf1e"/><circle cx="148.9" cy="116.6" r="5.4" fill="#f07c28"/><circle cx="166.3" cy="124.5" r="5.4" fill="#ee6426"/><circle cx="171.1" cy="118.2" r="5.4" fill="#e4292a"/><circle cx="163.1" cy="134.0" r="5.4" fill="#f07c28"/><circle cx="158.4" cy="138.8" r="5.4" fill="#f3cf1e"/><circle cx="155.2" cy="144.3" r="5.4" fill="#f3cf1e"/><circle cx="150.5" cy="148.3" r="5.4" fill="#a8cc3c"/><circle cx="145.7" cy="153.0" r="5.4" fill="#a8cc3c"/><circle cx="142.5" cy="157.0" r="5.4" fill="#62b84e"/><circle cx="179.0" cy="143.5" r="5.4" fill="#ee6426"/><circle cx="171.1" cy="151.5" r="5.4" fill="#f07c28"/><circle cx="177.4" cy="156.2" r="5.4" fill="#f07c28"/><circle cx="163.1" cy="157.8" r="5.4" fill="#f3cf1e"/><circle cx="98.2" cy="161.3" r="5.4" fill="#44b3e3"/><circle cx="104.5" cy="159.8" r="5.4" fill="#55b5b0"/><circle cx="112.4" cy="158.2" r="5.4" fill="#55b5b0"/><circle cx="118.8" cy="159.8" r="5.4" fill="#62b84e"/><circle cx="126.7" cy="156.6" r="5.4" fill="#62b84e"/><circle cx="133.0" cy="156.6" r="5.4" fill="#62b84e"/><circle cx="144.1" cy="156.6" r="5.4" fill="#a8cc3c"/><circle cx="101.3" cy="170.8" r="5.4" fill="#55b5b0"/><circle cx="107.7" cy="169.3" r="5.4" fill="#62b84e"/><circle cx="114.0" cy="167.7" r="5.4" fill="#62b84e"/><circle cx="121.9" cy="164.5" r="5.4" fill="#62b84e"/><circle cx="102.9" cy="178.8" r="5.4" fill="#55b5b0"/><circle cx="98.2" cy="182.0" r="5.4" fill="#44b3e3"/><circle cx="110.8" cy="185.1" r="5.4" fill="#55b5b0"/><circle cx="118.8" cy="183.5" r="5.4" fill="#62b84e"/><circle cx="125.1" cy="180.4" r="5.4" fill="#62b84e"/><circle cx="131.4" cy="174.0" r="5.4" fill="#62b84e"/><circle cx="137.8" cy="169.3" r="5.4" fill="#62b84e"/><circle cx="141.0" cy="166.1" r="5.4" fill="#62b84e"/><circle cx="128.3" cy="186.7" r="5.4" fill="#62b84e"/><circle cx="115.6" cy="193.0" r="5.4" fill="#55b5b0"/><circle cx="121.9" cy="194.6" r="5.4" fill="#62b84e"/><circle cx="131.4" cy="194.6" r="5.4" fill="#62b84e"/><circle cx="139.4" cy="194.6" r="5.4" fill="#62b84e"/><circle cx="142.5" cy="185.1" r="5.4" fill="#62b84e"/><circle cx="147.3" cy="180.4" r="5.4" fill="#62b84e"/><circle cx="153.6" cy="177.2" r="5.4" fill="#a8cc3c"/><circle cx="160.0" cy="172.4" r="5.4" fill="#a8cc3c"/><circle cx="166.3" cy="170.8" r="5.4" fill="#a8cc3c"/><circle cx="163.1" cy="161.3" r="5.4" fill="#f3cf1e"/><circle cx="172.7" cy="156.6" r="5.4" fill="#f07c28"/><circle cx="177.4" cy="159.8" r="5.4" fill="#f3cf1e"/><circle cx="98.2" cy="189.9" r="5.4" fill="#386bbe"/><circle cx="146.6" cy="117.7" r="5.4" fill="#f07c28"/><circle cx="140.8" cy="123.6" r="5.4" fill="#f3cf1e"/><circle cx="184.4" cy="146.8" r="5.4" fill="#ee6426"/><circle cx="186.0" cy="153.6" r="5.4" fill="#f3cf1e"/><circle cx="148.0" cy="189.0" r="5.4" fill="#62b84e"/><circle cx="153.0" cy="182.0" r="5.4" fill="#62b84e"/><circle cx="31.3" cy="123.8" r="5.4" fill="#2a46a0"/><circle cx="33.5" cy="116.4" r="5.4" fill="#386bbe"/><circle cx="41.9" cy="114.3" r="5.4" fill="#386bbe"/><circle cx="50.4" cy="113.2" r="5.4" fill="#386bbe"/><circle cx="56.7" cy="110.0" r="5.4" fill="#386bbe"/><circle cx="60.9" cy="104.8" r="5.4" fill="#44b3e3"/><circle cx="65.1" cy="98.5" r="5.4" fill="#55b5b0"/><circle cx="73.6" cy="96.3" r="5.4" fill="#55b5b0"/><circle cx="45.1" cy="121.7" r="5.4" fill="#44b3e3"/><circle cx="56.7" cy="122.7" r="5.4" fill="#44b3e3"/><circle cx="37.7" cy="121.7" r="5.4" fill="#386bbe"/><circle cx="52.5" cy="121.7" r="5.4" fill="#386bbe"/><circle cx="62.0" cy="127.0" r="5.4" fill="#386bbe"/><circle cx="67.3" cy="118.5" r="5.4" fill="#44b3e3"/><circle cx="73.6" cy="115.4" r="5.4" fill="#44b3e3"/><circle cx="35.6" cy="136.5" r="5.4" fill="#386bbe"/><circle cx="44.0" cy="134.4" r="5.4" fill="#386bbe"/><circle cx="52.5" cy="130.1" r="5.4" fill="#386bbe"/><circle cx="60.9" cy="128.0" r="5.4" fill="#386bbe"/><circle cx="67.3" cy="138.6" r="5.4" fill="#44b3e3"/><circle cx="75.7" cy="137.5" r="5.4" fill="#44b3e3"/><circle cx="82.0" cy="128.0" r="5.4" fill="#55b5b0"/><circle cx="86.3" cy="121.7" r="5.4" fill="#55b5b0"/><circle cx="92.6" cy="117.5" r="5.4" fill="#62b84e"/><circle cx="52.5" cy="147.0" r="5.4" fill="#386bbe"/><circle cx="60.9" cy="144.9" r="5.4" fill="#386bbe"/><circle cx="69.4" cy="142.8" r="5.4" fill="#44b3e3"/><circle cx="86.3" cy="138.6" r="5.4" fill="#55b5b0"/><circle cx="92.6" cy="136.5" r="5.4" fill="#55b5b0"/><circle cx="96.8" cy="128.0" r="5.4" fill="#62b84e"/><circle cx="99.0" cy="119.6" r="5.4" fill="#62b84e"/><circle cx="46.1" cy="136.1" r="5.4" fill="#386bbe"/><circle cx="50.4" cy="147.7" r="5.4" fill="#386bbe"/><circle cx="67.3" cy="142.4" r="5.4" fill="#386bbe"/><circle cx="73.6" cy="139.2" r="5.4" fill="#44b3e3"/><circle cx="82.0" cy="139.2" r="5.4" fill="#55b5b0"/><circle cx="90.5" cy="137.1" r="5.4" fill="#55b5b0"/><circle cx="94.7" cy="135.0" r="5.4" fill="#55b5b0"/><circle cx="56.7" cy="156.1" r="5.4" fill="#44b3e3"/><circle cx="48.2" cy="153.0" r="5.4" fill="#386bbe"/><circle cx="63.0" cy="149.8" r="5.4" fill="#386bbe"/><circle cx="69.4" cy="154.0" r="5.4" fill="#44b3e3"/><circle cx="75.7" cy="151.9" r="5.4" fill="#44b3e3"/><circle cx="82.0" cy="147.7" r="5.4" fill="#55b5b0"/><circle cx="88.4" cy="143.5" r="5.4" fill="#55b5b0"/><circle cx="50.4" cy="164.6" r="5.4" fill="#386bbe"/><circle cx="58.8" cy="166.7" r="5.4" fill="#386bbe"/><circle cx="63.0" cy="160.4" r="5.4" fill="#386bbe"/><circle cx="69.4" cy="158.2" r="5.4" fill="#386bbe"/><circle cx="58.8" cy="183.6" r="5.4" fill="#386bbe"/><circle cx="67.3" cy="179.4" r="5.4" fill="#386bbe"/><circle cx="75.7" cy="176.2" r="5.4" fill="#386bbe"/><circle cx="84.2" cy="174.1" r="5.4" fill="#386bbe"/><circle cx="92.6" cy="175.1" r="5.4" fill="#386bbe"/><circle cx="73.6" cy="185.7" r="5.4" fill="#386bbe"/><circle cx="86.3" cy="185.7" r="5.4" fill="#44b3e3"/><circle cx="80.0" cy="192.0" r="5.4" fill="#44b3e3"/><circle cx="94.7" cy="162.5" r="5.4" fill="#55b5b0"/><circle cx="60.0" cy="171.0" r="5.4" fill="#386bbe"/><circle cx="93.0" cy="190.7" r="5.4" fill="#386bbe"/><circle cx="74.0" cy="191.8" r="5.4" fill="#44b3e3"/><circle cx="70.7" cy="193.2" r="5.4" fill="#44b3e3"/><circle cx="77.0" cy="192.1" r="5.4" fill="#386bbe"/><circle cx="91.8" cy="193.2" r="5.4" fill="#386bbe"/><circle cx="90.4" cy="61.8" r="5.4" fill="#a8cc3c"/><circle cx="87.5" cy="70.2" r="5.4" fill="#62b84e"/><circle cx="84.7" cy="78.7" r="5.4" fill="#62b84e"/><circle cx="83.3" cy="87.1" r="5.4" fill="#62b84e"/><circle cx="79.1" cy="94.2" r="5.4" fill="#62b84e"/><circle cx="100.2" cy="61.8" r="5.4" fill="#f3cf1e"/><circle cx="96.0" cy="67.4" r="5.4" fill="#a8cc3c"/><circle cx="93.2" cy="77.3" r="5.4" fill="#a8cc3c"/><circle cx="91.8" cy="85.7" r="5.4" fill="#62b84e"/><circle cx="89.0" cy="94.2" r="5.4" fill="#62b84e"/><circle cx="86.1" cy="102.6" r="5.4" fill="#62b84e"/><circle cx="80.5" cy="109.6" r="5.4" fill="#55b5b0"/><circle cx="112.9" cy="73.0" r="5.4" fill="#f07c28"/><circle cx="111.5" cy="81.5" r="5.4" fill="#f3cf1e"/><circle cx="107.3" cy="91.3" r="5.4" fill="#a8cc3c"/><circle cx="105.8" cy="99.8" r="5.4" fill="#62b84e"/><circle cx="103.0" cy="108.2" r="5.4" fill="#62b84e"/><circle cx="100.2" cy="113.9" r="5.4" fill="#62b84e"/><circle cx="115.7" cy="64.6" r="5.4" fill="#ee6426"/><circle cx="118.5" cy="77.3" r="5.4" fill="#ee6426"/><circle cx="114.3" cy="85.7" r="5.4" fill="#f07c28"/><circle cx="110.1" cy="92.7" r="5.4" fill="#f3cf1e"/><circle cx="107.3" cy="101.2" r="5.4" fill="#a8cc3c"/><circle cx="121.5" cy="68.0" r="5.4" fill="#e4292a"/><circle cx="120.0" cy="58.0" r="5.4" fill="#e4292a"/><circle cx="99.0" cy="104.8" r="5.4" fill="#62b84e"/><circle cx="96.8" cy="113.2" r="5.4" fill="#62b84e"/><circle cx="75.5" cy="112.5" r="5.4" fill="#44b3e3"/></g>
<line x1="167.6" y1="98" x2="244" y2="240" stroke="#222" stroke-width="0.7"/>
<rect x="220.6" y="149.6" width="8.4" height="2" fill="#d8d8d8"/>
<rect x="220.6" y="151.4" width="8.4" height="80.5" fill="url(#cb)"/><rect x="220.6" y="232.3" width="8.4" height="1.2" fill="#bbb"/>
<text x="230.3" y="154.5" font-size="6.5">1.</text>
<text x="230.3" y="193.8" font-size="6.5">0.5</text>
<text x="230" y="234" font-size="6.5">0</text>
<line x1="251.3" y1="117.5" x2="244.3" y2="240" stroke="#444" stroke-width="0.7"/>
<line x1="248.5" y1="119.5" x2="251.2" y2="119" stroke="#444" stroke-width="0.7"/>
<line x1="246.2" y1="181.7" x2="248.2" y2="181.7" stroke="#444" stroke-width="0.7"/>
<text x="254.5" y="120.8" font-size="9">1</text>
<text x="250.8" y="183.6" font-size="10">0.5</text>
<text x="247" y="243" font-size="10.5">0</text>
<g fill="none" stroke="#1a1a1a" stroke-width="1.2"><polyline points="257,133.4 264.1,129.2 271.1,133.4"/><line x1="256" y1="136.4" x2="272" y2="136.4" stroke-width="1.4"/><line x1="256.2" y1="163.2" x2="272.3" y2="163.2" stroke-width="1.4"/><polyline points="257.1,167 264.2,170.3 271.4,167"/></g>
<text transform="translate(259.7,139) rotate(90)" font-size="17" font-style="italic">m</text>
<text transform="translate(255.2,153.2) rotate(90)" font-size="11">S</text>
<line x1="63.7" y1="267.8" x2="243.5" y2="240.8" stroke="#444" stroke-width="0.7"/>
<line x1="63.7" y1="265" x2="63.7" y2="268.5" stroke="#444" stroke-width="0.7"/>
<line x1="124.6" y1="256" x2="124.6" y2="258.5" stroke="#444" stroke-width="0.7"/>
<line x1="184.8" y1="247.5" x2="184.8" y2="250" stroke="#444" stroke-width="0.7"/>
<text x="58.4" y="281.5" font-size="11.5">10</text>
<text x="121.8" y="272" font-size="11.5">1</text>
<text x="176.9" y="263" font-size="10.5">0.1</text>
<text x="232.2" y="254" font-size="11">0.01</text>
<text x="201.8" y="271.2" font-size="14.5" font-style="italic">B<tspan font-size="9.6" dy="3.5">y</tspan><tspan dx="0.6" dy="-3.5">/NJ</tspan><tspan font-size="9.6" dy="2.8">rms</tspan></text>
<text x="-0.5" y="129.5" font-size="13" font-style="italic">N=9</text>
<text x="26" y="192" font-size="13" font-style="italic">N=5</text>
<text x="54.6" y="250.2" font-size="13" font-style="italic">N=2</text>

<text x="271" y="28.8" font-size="18">(b)</text>
<g fill="none" stroke="#1a1a1a" stroke-width="1.2"><polyline points="297.9,16.3 304.8,12.3 311.7,16.3"/><line x1="296.4" y1="19.7" x2="312.7" y2="19.7" stroke-width="1.4"/><line x1="296.8" y1="46.6" x2="313.1" y2="46.6" stroke-width="1.4"/><polyline points="297.3,50.3 304.7,54 312.1,50.3"/></g>
<text transform="translate(309.4,44) rotate(-90)" font-size="17" font-style="italic">m</text>
<text transform="translate(313.2,28.2) rotate(-90)" font-size="11">S</text>
<rect x="316.4" y="5.2" width="249.6" height="249" fill="none" stroke="#333" stroke-width="1.1"/>
<g stroke="#333" stroke-width="0.8">
<line x1="316" y1="64.4" x2="319" y2="64.4"/><line x1="316" y1="123.8" x2="319" y2="123.8"/><line x1="316" y1="183" x2="319" y2="183"/><line x1="316" y1="242.2" x2="319" y2="242.2"/>
<line x1="331.9" y1="254" x2="331.9" y2="251"/><line x1="391.2" y1="254" x2="391.2" y2="251"/><line x1="475.8" y1="254" x2="475.8" y2="251"/><line x1="560.8" y1="254" x2="560.8" y2="251"/>
</g>
<text x="308.2" y="10" font-size="13.5">1</text>
<text x="288.4" y="69.9" font-size="13.5">0.75</text>
<text x="288.4" y="129" font-size="13.5">0.50</text>
<text x="288.4" y="188" font-size="13.5">0.25</text>
<text x="307.8" y="248" font-size="13.5">0</text>
<text x="328" y="269" font-size="13.5">5</text>
<text x="387" y="269" font-size="13.5">1</text>
<text x="464.8" y="269" font-size="13.5">0.1</text>
<text x="546.7" y="269" font-size="13.5">0.01</text>
<text x="492.2" y="275.8" font-size="14.5" font-style="italic">B<tspan font-size="9.6" dy="3.5">y</tspan><tspan dx="0.6" dy="-3.5">/NJ</tspan><tspan font-size="9.6" dy="2.8">rms</tspan></text>
<rect x="328.7" y="218.4" width="11.2" height="11.2" fill="none" stroke="#2a2a2a" stroke-width="1.05"/><line x1="334.3" y1="221.5" x2="334.3" y2="226.5" stroke="#555" stroke-width="0.6"/><rect x="334.4" y="218.4" width="11.2" height="11.2" fill="none" stroke="#2a2a2a" stroke-width="1.05"/><line x1="340.0" y1="221.5" x2="340.0" y2="226.5" stroke="#555" stroke-width="0.6"/><rect x="341.4" y="218.4" width="11.2" height="11.2" fill="none" stroke="#2a2a2a" stroke-width="1.05"/><line x1="347.0" y1="221.5" x2="347.0" y2="226.5" stroke="#555" stroke-width="0.6"/><rect x="347.0" y="219.8" width="11.2" height="11.2" fill="none" stroke="#2a2a2a" stroke-width="1.05"/><line x1="352.6" y1="222.9" x2="352.6" y2="227.9" stroke="#555" stroke-width="0.6"/><rect x="352.7" y="221.2" width="11.2" height="11.2" fill="none" stroke="#2a2a2a" stroke-width="1.05"/><line x1="358.3" y1="224.3" x2="358.3" y2="229.3" stroke="#555" stroke-width="0.6"/><rect x="358.3" y="221.2" width="11.2" height="11.2" fill="none" stroke="#2a2a2a" stroke-width="1.05"/><line x1="363.9" y1="224.3" x2="363.9" y2="229.3" stroke="#555" stroke-width="0.6"/><rect x="368.1" y="212.1" width="11.2" height="11.2" fill="none" stroke="#2a2a2a" stroke-width="1.05"/><line x1="373.7" y1="215.2" x2="373.7" y2="220.2" stroke="#555" stroke-width="0.6"/><rect x="372.4" y="209.3" width="11.2" height="11.2" fill="none" stroke="#2a2a2a" stroke-width="1.05"/><line x1="378.0" y1="212.4" x2="378.0" y2="217.4" stroke="#555" stroke-width="0.6"/><rect x="331.5" y="233.2" width="11.2" height="11.2" fill="none" stroke="#2a2a2a" stroke-width="1.05"/><line x1="337.1" y1="236.3" x2="337.1" y2="241.3" stroke="#555" stroke-width="0.6"/><rect x="342.8" y="234.6" width="11.2" height="11.2" fill="none" stroke="#2a2a2a" stroke-width="1.05"/><line x1="348.4" y1="237.7" x2="348.4" y2="242.7" stroke="#555" stroke-width="0.6"/><rect x="335.8" y="226.2" width="11.2" height="11.2" fill="none" stroke="#2a2a2a" stroke-width="1.05"/><line x1="341.4" y1="229.3" x2="341.4" y2="234.3" stroke="#555" stroke-width="0.6"/><rect x="381.1" y="185.8" width="11.2" height="11.2" fill="none" stroke="#2a2a2a" stroke-width="1.05"/><line x1="386.7" y1="188.9" x2="386.7" y2="193.9" stroke="#555" stroke-width="0.6"/><rect x="389.0" y="188.4" width="11.2" height="11.2" fill="none" stroke="#2a2a2a" stroke-width="1.05"/><line x1="394.6" y1="191.5" x2="394.6" y2="196.5" stroke="#555" stroke-width="0.6"/><rect x="396.0" y="190.2" width="11.2" height="11.2" fill="none" stroke="#2a2a2a" stroke-width="1.05"/><line x1="401.6" y1="193.3" x2="401.6" y2="198.3" stroke="#555" stroke-width="0.6"/><rect x="385.4" y="196.4" width="11.2" height="11.2" fill="none" stroke="#2a2a2a" stroke-width="1.05"/><line x1="391.0" y1="199.5" x2="391.0" y2="204.5" stroke="#555" stroke-width="0.6"/><rect x="376.7" y="198.1" width="11.2" height="11.2" fill="none" stroke="#2a2a2a" stroke-width="1.05"/><line x1="382.3" y1="201.2" x2="382.3" y2="206.2" stroke="#555" stroke-width="0.6"/><rect x="387.2" y="199.9" width="11.2" height="11.2" fill="none" stroke="#2a2a2a" stroke-width="1.05"/><line x1="392.8" y1="203.0" x2="392.8" y2="208.0" stroke="#555" stroke-width="0.6"/><rect x="404.8" y="175.2" width="11.2" height="11.2" fill="none" stroke="#2a2a2a" stroke-width="1.05"/><line x1="410.4" y1="178.3" x2="410.4" y2="183.3" stroke="#555" stroke-width="0.6"/><rect x="399.5" y="182.3" width="11.2" height="11.2" fill="none" stroke="#2a2a2a" stroke-width="1.05"/><line x1="405.1" y1="185.4" x2="405.1" y2="190.4" stroke="#555" stroke-width="0.6"/><rect x="408.4" y="166.4" width="11.2" height="11.2" fill="none" stroke="#2a2a2a" stroke-width="1.05"/><line x1="414.0" y1="169.5" x2="414.0" y2="174.5" stroke="#555" stroke-width="0.6"/><rect x="410.1" y="162.9" width="11.2" height="11.2" fill="none" stroke="#2a2a2a" stroke-width="1.05"/><line x1="415.7" y1="166.0" x2="415.7" y2="171.0" stroke="#555" stroke-width="0.6"/><rect x="375.8" y="205.2" width="11.2" height="11.2" fill="none" stroke="#2a2a2a" stroke-width="1.05"/><line x1="381.4" y1="208.3" x2="381.4" y2="213.3" stroke="#555" stroke-width="0.6"/><rect x="420.7" y="132.9" width="11.2" height="11.2" fill="none" stroke="#2a2a2a" stroke-width="1.05"/><line x1="426.3" y1="136.0" x2="426.3" y2="141.0" stroke="#555" stroke-width="0.6"/><rect x="415.4" y="147.9" width="11.2" height="11.2" fill="none" stroke="#2a2a2a" stroke-width="1.05"/><line x1="421.0" y1="151.0" x2="421.0" y2="156.0" stroke="#555" stroke-width="0.6"/><rect x="413.7" y="161.9" width="11.2" height="11.2" fill="none" stroke="#2a2a2a" stroke-width="1.05"/><line x1="419.3" y1="165.0" x2="419.3" y2="170.0" stroke="#555" stroke-width="0.6"/><rect x="432.3" y="71.4" width="11.2" height="11.2" fill="none" stroke="#2a2a2a" stroke-width="1.05"/><line x1="437.9" y1="74.5" x2="437.9" y2="79.5" stroke="#555" stroke-width="0.6"/><rect x="427.9" y="89.9" width="11.2" height="11.2" fill="none" stroke="#2a2a2a" stroke-width="1.05"/><line x1="433.5" y1="93.0" x2="433.5" y2="98.0" stroke="#555" stroke-width="0.6"/><rect x="423.1" y="112.6" width="11.2" height="11.2" fill="none" stroke="#2a2a2a" stroke-width="1.05"/><line x1="428.7" y1="115.7" x2="428.7" y2="120.7" stroke="#555" stroke-width="0.6"/><rect x="433.2" y="55.4" width="11.2" height="11.2" fill="none" stroke="#2a2a2a" stroke-width="1.05"/><line x1="438.8" y1="58.5" x2="438.8" y2="63.5" stroke="#555" stroke-width="0.6"/><rect x="438.1" y="50.5" width="11.2" height="11.2" fill="none" stroke="#2a2a2a" stroke-width="1.05"/><line x1="443.7" y1="53.6" x2="443.7" y2="58.6" stroke="#555" stroke-width="0.6"/><rect x="444.5" y="44.1" width="11.2" height="11.2" fill="none" stroke="#2a2a2a" stroke-width="1.05"/><line x1="450.1" y1="47.2" x2="450.1" y2="52.2" stroke="#555" stroke-width="0.6"/><rect x="451.5" y="43.4" width="11.2" height="11.2" fill="none" stroke="#2a2a2a" stroke-width="1.05"/><line x1="457.1" y1="46.5" x2="457.1" y2="51.5" stroke="#555" stroke-width="0.6"/><rect x="445.9" y="51.2" width="11.2" height="11.2" fill="none" stroke="#2a2a2a" stroke-width="1.05"/><line x1="451.5" y1="54.3" x2="451.5" y2="59.3" stroke="#555" stroke-width="0.6"/><rect x="450.1" y="49.0" width="11.2" height="11.2" fill="none" stroke="#2a2a2a" stroke-width="1.05"/><line x1="455.7" y1="52.1" x2="455.7" y2="57.1" stroke="#555" stroke-width="0.6"/><rect x="458.6" y="52.6" width="11.2" height="11.2" fill="none" stroke="#2a2a2a" stroke-width="1.05"/><line x1="464.2" y1="55.7" x2="464.2" y2="60.7" stroke="#555" stroke-width="0.6"/><rect x="464.2" y="55.4" width="11.2" height="11.2" fill="none" stroke="#2a2a2a" stroke-width="1.05"/><line x1="469.8" y1="58.5" x2="469.8" y2="63.5" stroke="#555" stroke-width="0.6"/><rect x="469.8" y="52.6" width="11.2" height="11.2" fill="none" stroke="#2a2a2a" stroke-width="1.05"/><line x1="475.4" y1="55.7" x2="475.4" y2="60.7" stroke="#555" stroke-width="0.6"/><rect x="475.5" y="54.7" width="11.2" height="11.2" fill="none" stroke="#2a2a2a" stroke-width="1.05"/><line x1="481.1" y1="57.8" x2="481.1" y2="62.8" stroke="#555" stroke-width="0.6"/><rect x="481.1" y="49.8" width="11.2" height="11.2" fill="none" stroke="#2a2a2a" stroke-width="1.05"/><line x1="486.7" y1="52.9" x2="486.7" y2="57.9" stroke="#555" stroke-width="0.6"/><rect x="476.9" y="42.7" width="11.2" height="11.2" fill="none" stroke="#2a2a2a" stroke-width="1.05"/><line x1="482.5" y1="45.8" x2="482.5" y2="50.8" stroke="#555" stroke-width="0.6"/><rect x="479.7" y="37.8" width="11.2" height="11.2" fill="none" stroke="#2a2a2a" stroke-width="1.05"/><line x1="485.3" y1="40.9" x2="485.3" y2="45.9" stroke="#555" stroke-width="0.6"/><rect x="485.3" y="37.8" width="11.2" height="11.2" fill="none" stroke="#2a2a2a" stroke-width="1.05"/><line x1="490.9" y1="40.9" x2="490.9" y2="45.9" stroke="#555" stroke-width="0.6"/><rect x="489.6" y="38.5" width="11.2" height="11.2" fill="none" stroke="#2a2a2a" stroke-width="1.05"/><line x1="495.2" y1="41.6" x2="495.2" y2="46.6" stroke="#555" stroke-width="0.6"/><rect x="495.2" y="40.6" width="11.2" height="11.2" fill="none" stroke="#2a2a2a" stroke-width="1.05"/><line x1="500.8" y1="43.7" x2="500.8" y2="48.7" stroke="#555" stroke-width="0.6"/><rect x="493.8" y="48.3" width="11.2" height="11.2" fill="none" stroke="#2a2a2a" stroke-width="1.05"/><line x1="499.4" y1="51.4" x2="499.4" y2="56.4" stroke="#555" stroke-width="0.6"/><rect x="507.9" y="52.6" width="11.2" height="11.2" fill="none" stroke="#2a2a2a" stroke-width="1.05"/><line x1="513.5" y1="55.7" x2="513.5" y2="60.7" stroke="#555" stroke-width="0.6"/><rect x="505.0" y="56.8" width="11.2" height="11.2" fill="none" stroke="#2a2a2a" stroke-width="1.05"/><line x1="510.6" y1="59.9" x2="510.6" y2="64.9" stroke="#555" stroke-width="0.6"/><rect x="493.2" y="38.5" width="11.2" height="11.2" fill="none" stroke="#2a2a2a" stroke-width="1.05"/><line x1="498.8" y1="41.6" x2="498.8" y2="46.6" stroke="#555" stroke-width="0.6"/><rect x="494.6" y="42.7" width="11.2" height="11.2" fill="none" stroke="#2a2a2a" stroke-width="1.05"/><line x1="500.2" y1="45.8" x2="500.2" y2="50.8" stroke="#555" stroke-width="0.6"/><rect x="507.3" y="55.4" width="11.2" height="11.2" fill="none" stroke="#2a2a2a" stroke-width="1.05"/><line x1="512.9" y1="58.5" x2="512.9" y2="63.5" stroke="#555" stroke-width="0.6"/><rect x="511.5" y="56.1" width="11.2" height="11.2" fill="none" stroke="#2a2a2a" stroke-width="1.05"/><line x1="517.1" y1="59.2" x2="517.1" y2="64.2" stroke="#555" stroke-width="0.6"/><rect x="522.8" y="41.3" width="11.2" height="11.2" fill="none" stroke="#2a2a2a" stroke-width="1.05"/><line x1="528.4" y1="44.4" x2="528.4" y2="49.4" stroke="#555" stroke-width="0.6"/><rect x="529.8" y="41.3" width="11.2" height="11.2" fill="none" stroke="#2a2a2a" stroke-width="1.05"/><line x1="535.4" y1="44.4" x2="535.4" y2="49.4" stroke="#555" stroke-width="0.6"/><rect x="539.7" y="44.1" width="11.2" height="11.2" fill="none" stroke="#2a2a2a" stroke-width="1.05"/><line x1="545.3" y1="47.2" x2="545.3" y2="52.2" stroke="#555" stroke-width="0.6"/><rect x="548.1" y="52.6" width="11.2" height="11.2" fill="none" stroke="#2a2a2a" stroke-width="1.05"/><line x1="553.7" y1="55.7" x2="553.7" y2="60.7" stroke="#555" stroke-width="0.6"/><rect x="552.4" y="52.6" width="11.2" height="11.2" fill="none" stroke="#2a2a2a" stroke-width="1.05"/><line x1="558.0" y1="55.7" x2="558.0" y2="60.7" stroke="#555" stroke-width="0.6"/><rect x="551.0" y="49.0" width="11.2" height="11.2" fill="none" stroke="#2a2a2a" stroke-width="1.05"/><line x1="556.6" y1="52.1" x2="556.6" y2="57.1" stroke="#555" stroke-width="0.6"/><rect x="325.8" y="217.6" width="11.2" height="11.2" fill="none" stroke="#2a2a2a" stroke-width="1.05"/><line x1="331.4" y1="220.7" x2="331.4" y2="225.7" stroke="#555" stroke-width="0.6"/><rect x="331.5" y="216.5" width="11.2" height="11.2" fill="none" stroke="#2a2a2a" stroke-width="1.05"/><line x1="337.1" y1="219.6" x2="337.1" y2="224.6" stroke="#555" stroke-width="0.6"/><rect x="340.7" y="217.6" width="11.2" height="11.2" fill="none" stroke="#2a2a2a" stroke-width="1.05"/><line x1="346.3" y1="220.7" x2="346.3" y2="225.7" stroke="#555" stroke-width="0.6"/><rect x="347.5" y="218.8" width="11.2" height="11.2" fill="none" stroke="#2a2a2a" stroke-width="1.05"/><line x1="353.1" y1="221.9" x2="353.1" y2="226.9" stroke="#555" stroke-width="0.6"/><rect x="355.5" y="219.9" width="11.2" height="11.2" fill="none" stroke="#2a2a2a" stroke-width="1.05"/><line x1="361.1" y1="223.0" x2="361.1" y2="228.0" stroke="#555" stroke-width="0.6"/><rect x="363.5" y="221.0" width="11.2" height="11.2" fill="none" stroke="#2a2a2a" stroke-width="1.05"/><line x1="369.1" y1="224.1" x2="369.1" y2="229.1" stroke="#555" stroke-width="0.6"/><rect x="370.4" y="209.4" width="11.2" height="11.2" fill="none" stroke="#2a2a2a" stroke-width="1.05"/><line x1="376.0" y1="212.5" x2="376.0" y2="217.5" stroke="#555" stroke-width="0.6"/><rect x="328.1" y="224.4" width="11.2" height="11.2" fill="none" stroke="#2a2a2a" stroke-width="1.05"/><line x1="333.7" y1="227.5" x2="333.7" y2="232.5" stroke="#555" stroke-width="0.6"/><rect x="350.0" y="222.5" width="11.2" height="11.2" fill="none" stroke="#2a2a2a" stroke-width="1.05"/><line x1="355.6" y1="225.6" x2="355.6" y2="230.6" stroke="#555" stroke-width="0.6"/><rect x="378.6" y="199.2" width="11.2" height="11.2" fill="none" stroke="#2a2a2a" stroke-width="1.05"/><line x1="384.2" y1="202.3" x2="384.2" y2="207.3" stroke="#555" stroke-width="0.6"/><rect x="372.0" y="205.8" width="11.2" height="11.2" fill="none" stroke="#2a2a2a" stroke-width="1.05"/><line x1="377.6" y1="208.9" x2="377.6" y2="213.9" stroke="#555" stroke-width="0.6"/><rect x="413.7" y="147.6" width="11.2" height="11.2" fill="none" stroke="#2a2a2a" stroke-width="1.05"/><line x1="419.3" y1="150.7" x2="419.3" y2="155.7" stroke="#555" stroke-width="0.6"/><rect x="411.1" y="163.4" width="11.2" height="11.2" fill="none" stroke="#2a2a2a" stroke-width="1.05"/><line x1="416.7" y1="166.5" x2="416.7" y2="171.5" stroke="#555" stroke-width="0.6"/><rect x="405.8" y="174.0" width="11.2" height="11.2" fill="none" stroke="#2a2a2a" stroke-width="1.05"/><line x1="411.4" y1="177.1" x2="411.4" y2="182.1" stroke="#555" stroke-width="0.6"/><rect x="398.7" y="181.9" width="11.2" height="11.2" fill="none" stroke="#2a2a2a" stroke-width="1.05"/><line x1="404.3" y1="185.0" x2="404.3" y2="190.0" stroke="#555" stroke-width="0.6"/><rect x="382.0" y="182.8" width="11.2" height="11.2" fill="none" stroke="#2a2a2a" stroke-width="1.05"/><line x1="387.6" y1="185.9" x2="387.6" y2="190.9" stroke="#555" stroke-width="0.6"/>
<circle cx="325.9" cy="213.5" r="5.9" fill="none" stroke="#e03030" stroke-width="0.9"/><line x1="325.9" y1="210.5" x2="325.9" y2="216.5" stroke="#e05050" stroke-width="0.6"/><circle cx="352.6" cy="207.8" r="5.9" fill="none" stroke="#e03030" stroke-width="0.9"/><line x1="352.6" y1="204.8" x2="352.6" y2="210.8" stroke="#e05050" stroke-width="0.6"/><circle cx="362.5" cy="209.2" r="5.9" fill="none" stroke="#e03030" stroke-width="0.9"/><line x1="362.5" y1="206.2" x2="362.5" y2="212.2" stroke="#e05050" stroke-width="0.6"/><circle cx="369.5" cy="230.4" r="5.9" fill="none" stroke="#e03030" stroke-width="0.9"/><line x1="369.5" y1="227.4" x2="369.5" y2="233.4" stroke="#e05050" stroke-width="0.6"/><circle cx="375.2" cy="216.3" r="5.9" fill="none" stroke="#e03030" stroke-width="0.9"/><line x1="375.2" y1="213.3" x2="375.2" y2="219.3" stroke="#e05050" stroke-width="0.6"/><circle cx="321.0" cy="247.5" r="5.9" fill="none" stroke="#e03030" stroke-width="0.9"/><line x1="321.0" y1="244.5" x2="321.0" y2="250.5" stroke="#e05050" stroke-width="0.6"/><circle cx="357.6" cy="183.5" r="5.9" fill="none" stroke="#e03030" stroke-width="0.9"/><line x1="357.6" y1="180.5" x2="357.6" y2="186.5" stroke="#e05050" stroke-width="0.6"/><circle cx="341.8" cy="195.8" r="5.9" fill="none" stroke="#e03030" stroke-width="0.9"/><line x1="341.8" y1="192.8" x2="341.8" y2="198.8" stroke="#e05050" stroke-width="0.6"/><circle cx="352.3" cy="206.4" r="5.9" fill="none" stroke="#e03030" stroke-width="0.9"/><line x1="352.3" y1="203.4" x2="352.3" y2="209.4" stroke="#e05050" stroke-width="0.6"/><circle cx="362.9" cy="204.6" r="5.9" fill="none" stroke="#e03030" stroke-width="0.9"/><line x1="362.9" y1="201.6" x2="362.9" y2="207.6" stroke="#e05050" stroke-width="0.6"/><circle cx="376.1" cy="195.8" r="5.9" fill="none" stroke="#e03030" stroke-width="0.9"/><line x1="376.1" y1="192.8" x2="376.1" y2="198.8" stroke="#e05050" stroke-width="0.6"/><circle cx="387.5" cy="174.7" r="5.9" fill="none" stroke="#e03030" stroke-width="0.9"/><line x1="387.5" y1="171.7" x2="387.5" y2="177.7" stroke="#e05050" stroke-width="0.6"/><circle cx="408.7" cy="139.4" r="5.9" fill="none" stroke="#e03030" stroke-width="0.9"/><line x1="408.7" y1="136.4" x2="408.7" y2="142.4" stroke="#e05050" stroke-width="0.6"/><circle cx="426.3" cy="139.4" r="5.9" fill="none" stroke="#e03030" stroke-width="0.9"/><line x1="426.3" y1="136.4" x2="426.3" y2="142.4" stroke="#e05050" stroke-width="0.6"/><circle cx="431.6" cy="149.0" r="5.9" fill="none" stroke="#e03030" stroke-width="0.9"/><line x1="431.6" y1="146.0" x2="431.6" y2="152.0" stroke="#e05050" stroke-width="0.6"/><circle cx="438.7" cy="134.1" r="5.9" fill="none" stroke="#e03030" stroke-width="0.9"/><line x1="438.7" y1="131.1" x2="438.7" y2="137.1" stroke="#e05050" stroke-width="0.6"/><circle cx="442.2" cy="135.8" r="5.9" fill="none" stroke="#e03030" stroke-width="0.9"/><line x1="442.2" y1="132.8" x2="442.2" y2="138.8" stroke="#e05050" stroke-width="0.6"/><circle cx="444.0" cy="125.3" r="5.9" fill="none" stroke="#e03030" stroke-width="0.9"/><line x1="444.0" y1="122.3" x2="444.0" y2="128.3" stroke="#e05050" stroke-width="0.6"/><circle cx="449.2" cy="121.8" r="5.9" fill="none" stroke="#e03030" stroke-width="0.9"/><line x1="449.2" y1="118.8" x2="449.2" y2="124.8" stroke="#e05050" stroke-width="0.6"/><circle cx="459.8" cy="121.8" r="5.9" fill="none" stroke="#e03030" stroke-width="0.9"/><line x1="459.8" y1="118.8" x2="459.8" y2="124.8" stroke="#e05050" stroke-width="0.6"/><circle cx="394.6" cy="157.9" r="5.9" fill="none" stroke="#e03030" stroke-width="0.9"/><line x1="394.6" y1="154.9" x2="394.6" y2="160.9" stroke="#e05050" stroke-width="0.6"/><circle cx="401.7" cy="157.9" r="5.9" fill="none" stroke="#e03030" stroke-width="0.9"/><line x1="401.7" y1="154.9" x2="401.7" y2="160.9" stroke="#e05050" stroke-width="0.6"/><circle cx="419.3" cy="158.7" r="5.9" fill="none" stroke="#e03030" stroke-width="0.9"/><line x1="419.3" y1="155.7" x2="419.3" y2="161.7" stroke="#e05050" stroke-width="0.6"/><circle cx="422.8" cy="163.1" r="5.9" fill="none" stroke="#e03030" stroke-width="0.9"/><line x1="422.8" y1="160.1" x2="422.8" y2="166.1" stroke="#e05050" stroke-width="0.6"/><circle cx="390.2" cy="175.2" r="5.9" fill="none" stroke="#e03030" stroke-width="0.9"/><line x1="390.2" y1="172.2" x2="390.2" y2="178.2" stroke="#e05050" stroke-width="0.6"/><circle cx="415.8" cy="166.7" r="5.9" fill="none" stroke="#e03030" stroke-width="0.9"/><line x1="415.8" y1="163.7" x2="415.8" y2="169.7" stroke="#e05050" stroke-width="0.6"/><circle cx="463.4" cy="85.8" r="5.9" fill="none" stroke="#e03030" stroke-width="0.9"/><line x1="463.4" y1="82.8" x2="463.4" y2="88.8" stroke="#e05050" stroke-width="0.6"/><circle cx="467.8" cy="88.5" r="5.9" fill="none" stroke="#e03030" stroke-width="0.9"/><line x1="467.8" y1="85.5" x2="467.8" y2="91.5" stroke="#e05050" stroke-width="0.6"/><circle cx="454.6" cy="100.8" r="5.9" fill="none" stroke="#e03030" stroke-width="0.9"/><line x1="454.6" y1="97.8" x2="454.6" y2="103.8" stroke="#e05050" stroke-width="0.6"/><circle cx="473.0" cy="99.0" r="5.9" fill="none" stroke="#e03030" stroke-width="0.9"/><line x1="473.0" y1="96.0" x2="473.0" y2="102.0" stroke="#e05050" stroke-width="0.6"/><circle cx="486.3" cy="90.2" r="5.9" fill="none" stroke="#e03030" stroke-width="0.9"/><line x1="486.3" y1="87.2" x2="486.3" y2="93.2" stroke="#e05050" stroke-width="0.6"/><circle cx="482.7" cy="75.3" r="5.9" fill="none" stroke="#e03030" stroke-width="0.9"/><line x1="482.7" y1="72.3" x2="482.7" y2="78.3" stroke="#e05050" stroke-width="0.6"/><circle cx="495.0" cy="73.5" r="5.9" fill="none" stroke="#e03030" stroke-width="0.9"/><line x1="495.0" y1="70.5" x2="495.0" y2="76.5" stroke="#e05050" stroke-width="0.6"/><circle cx="451.0" cy="117.5" r="5.9" fill="none" stroke="#e03030" stroke-width="0.9"/><line x1="451.0" y1="114.5" x2="451.0" y2="120.5" stroke="#e05050" stroke-width="0.6"/><circle cx="458.0" cy="117.5" r="5.9" fill="none" stroke="#e03030" stroke-width="0.9"/><line x1="458.0" y1="114.5" x2="458.0" y2="120.5" stroke="#e05050" stroke-width="0.6"/><circle cx="490.9" cy="42.0" r="5.9" fill="none" stroke="#e03030" stroke-width="0.9"/><line x1="490.9" y1="39.0" x2="490.9" y2="45.0" stroke="#e05050" stroke-width="0.6"/><circle cx="513.5" cy="48.3" r="5.9" fill="none" stroke="#e03030" stroke-width="0.9"/><line x1="513.5" y1="45.3" x2="513.5" y2="51.3" stroke="#e05050" stroke-width="0.6"/><circle cx="478.3" cy="68.0" r="5.9" fill="none" stroke="#e03030" stroke-width="0.9"/><line x1="478.3" y1="65.0" x2="478.3" y2="71.0" stroke="#e05050" stroke-width="0.6"/><circle cx="514.3" cy="46.9" r="5.9" fill="none" stroke="#e03030" stroke-width="0.9"/><line x1="514.3" y1="43.9" x2="514.3" y2="49.9" stroke="#e05050" stroke-width="0.6"/><circle cx="521.4" cy="46.9" r="5.9" fill="none" stroke="#e03030" stroke-width="0.9"/><line x1="521.4" y1="43.9" x2="521.4" y2="49.9" stroke="#e05050" stroke-width="0.6"/><circle cx="531.2" cy="45.5" r="5.9" fill="none" stroke="#e03030" stroke-width="0.9"/><line x1="531.2" y1="42.5" x2="531.2" y2="48.5" stroke="#e05050" stroke-width="0.6"/><circle cx="542.5" cy="48.3" r="5.9" fill="none" stroke="#e03030" stroke-width="0.9"/><line x1="542.5" y1="45.3" x2="542.5" y2="51.3" stroke="#e05050" stroke-width="0.6"/><circle cx="550.9" cy="44.1" r="5.9" fill="none" stroke="#e03030" stroke-width="0.9"/><line x1="550.9" y1="41.1" x2="550.9" y2="47.1" stroke="#e05050" stroke-width="0.6"/><circle cx="555.2" cy="48.3" r="5.9" fill="none" stroke="#e03030" stroke-width="0.9"/><line x1="555.2" y1="45.3" x2="555.2" y2="51.3" stroke="#e05050" stroke-width="0.6"/><circle cx="538.3" cy="62.4" r="5.9" fill="none" stroke="#e03030" stroke-width="0.9"/><line x1="538.3" y1="59.4" x2="538.3" y2="65.4" stroke="#e05050" stroke-width="0.6"/><circle cx="528.4" cy="65.2" r="5.9" fill="none" stroke="#e03030" stroke-width="0.9"/><line x1="528.4" y1="62.2" x2="528.4" y2="68.2" stroke="#e05050" stroke-width="0.6"/><circle cx="505.9" cy="62.4" r="5.9" fill="none" stroke="#e03030" stroke-width="0.9"/><line x1="505.9" y1="59.4" x2="505.9" y2="65.4" stroke="#e05050" stroke-width="0.6"/><circle cx="482.4" cy="76.1" r="5.9" fill="none" stroke="#e03030" stroke-width="0.9"/><line x1="482.4" y1="73.1" x2="482.4" y2="79.1" stroke="#e05050" stroke-width="0.6"/><circle cx="500.9" cy="69.1" r="5.9" fill="none" stroke="#e03030" stroke-width="0.9"/><line x1="500.9" y1="66.1" x2="500.9" y2="72.1" stroke="#e05050" stroke-width="0.6"/><circle cx="527.3" cy="67.3" r="5.9" fill="none" stroke="#e03030" stroke-width="0.9"/><line x1="527.3" y1="64.3" x2="527.3" y2="70.3" stroke="#e05050" stroke-width="0.6"/><circle cx="542.3" cy="62.9" r="5.9" fill="none" stroke="#e03030" stroke-width="0.9"/><line x1="542.3" y1="59.9" x2="542.3" y2="65.9" stroke="#e05050" stroke-width="0.6"/><circle cx="463.0" cy="84.9" r="5.9" fill="none" stroke="#e03030" stroke-width="0.9"/><line x1="463.0" y1="81.9" x2="463.0" y2="87.9" stroke="#e05050" stroke-width="0.6"/><circle cx="472.7" cy="99.0" r="5.9" fill="none" stroke="#e03030" stroke-width="0.9"/><line x1="472.7" y1="96.0" x2="472.7" y2="102.0" stroke="#e05050" stroke-width="0.6"/><circle cx="457.8" cy="99.9" r="5.9" fill="none" stroke="#e03030" stroke-width="0.9"/><line x1="457.8" y1="96.9" x2="457.8" y2="102.9" stroke="#e05050" stroke-width="0.6"/><circle cx="405.2" cy="159.4" r="5.9" fill="none" stroke="#e03030" stroke-width="0.9"/><line x1="405.2" y1="156.4" x2="405.2" y2="162.4" stroke="#e05050" stroke-width="0.6"/><circle cx="407.0" cy="140.0" r="5.9" fill="none" stroke="#e03030" stroke-width="0.9"/><line x1="407.0" y1="137.0" x2="407.0" y2="143.0" stroke="#e05050" stroke-width="0.6"/>
<polyline points="331.8,243.4 334.0,239.0 337.1,238.6 340.0,235.5 343.4,238.0 346.0,235.0 349.8,236.5 353.0,234.0 358.2,234.5 362.0,232.0 366.6,231.3 373.0,228.6 379.3,225.5 383.5,221.4 388.8,214.0 394.0,203.4 397.2,195.0 400.8,189.2 407.0,176.8 411.9,162.0 416.8,144.8 420.5,130.0 424.6,108.7 428.2,96.4 431.7,80.6 436.0,68.0 441.6,63.1 450.1,60.3 457.1,57.5 464.2,51.8 471.2,49.5 477.0,51.5 483.5,54.5 491.5,53.5 498.0,50.5 504.7,49.6 515.3,51.1 524.2,51.8 538.3,52.5 562.2,52.5" fill="none" stroke="#111" stroke-width="3.3" stroke-linejoin="round"/>
<polyline points="319.2,248.0 325.5,218.2 330.8,235.1 336.0,219.3 341.3,233.0 347.6,214.0 352.9,205.5 357.1,215.0 362.4,205.5 366.6,209.8 371.9,211.9 377.2,203.4 381.4,196.0 388.5,174.4 394.6,164.5 407.0,153.4 419.3,142.3 429.2,130.0 433.5,123.0 444.0,105.2 454.6,92.9 465.1,82.3 477.1,70.8 491.2,62.9 508.8,58.5 526.4,57.6 551.0,57.6" fill="none" stroke="#e8141c" stroke-width="3.2" stroke-linejoin="round"/>
<circle cx="347.4" cy="41.6" r="5" fill="none" stroke="#e03030" stroke-width="1"/>
<rect x="342.8" y="50.3" width="9.8" height="9.2" fill="none" stroke="#333" stroke-width="1"/>
<line x1="337.4" y1="67.8" x2="357.1" y2="67.8" stroke="#e8141c" stroke-width="2.6"/>
<line x1="337.4" y1="80.3" x2="357.1" y2="80.3" stroke="#111" stroke-width="2.6"/>
<text x="361.6" y="46" font-size="11"><tspan font-style="italic">N=2</tspan> Data</text>
<text x="361.6" y="59" font-size="11"><tspan font-style="italic">N=9</tspan> Data</text>
<text x="361.6" y="72" font-size="11"><tspan font-style="italic">N=2</tspan> Theory</text>
<text x="361.6" y="85" font-size="11"><tspan font-style="italic">N=9</tspan> Theory</text>
</g>
</svg>
</body></html>
